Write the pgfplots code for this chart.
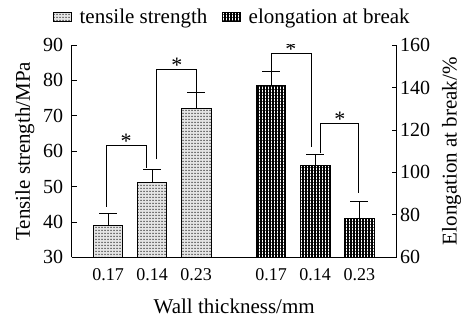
\documentclass[border=0pt]{standalone}
\usepackage{pgfplots}
\pgfplotsset{compat=1.18}
\usepackage{fontspec}
\setmainfont{Liberation Serif}
\usetikzlibrary{patterns.meta}
\pgfplotstableread{
x y e
1 39.1 3.3
2 51.2 3.7
3 72.1 4.6
}\tensile
\pgfplotstableread{
x y e
4.7 141.2 6.6
5.7 103.1 5.6
6.7 78.4 7.8
}\elong
\tikzset{
 tsstyle/.style={draw=black, line width=0.8bp, fill=black!10, postaction={pattern={Dots[distance=3bp,radius=0.75bp]}, pattern color=black!80}},
 elstyle/.style={draw=black, line width=0.8bp, pattern={Hatch[angle=0,distance=3bp,line width=1.4bp]}, pattern color=black},
 starnode/.style={inner sep=0, anchor=south, yshift=-3bp, font=\fontsize{22bp}{22bp}\selectfont},
}
\pgfplotsset{
 common/.style={
  scale only axis, width=325bp, height=212.3bp,
  xmin=0.175, xmax=7.55,
  axis line style={-, line width=0.8bp},
  tick align=inside, major tick length=5bp,
  every tick/.style={black, line width=0.8bp},
  /pgf/number format/assume math mode=true,
  label style={font=\fontsize{21bp}{24bp}\selectfont},
  yticklabel style={font=\fontsize{20bp}{22bp}\selectfont},
  xticklabel style={font=\fontsize{18bp}{20bp}\selectfont, yshift=-8bp},
  error bars/y dir=plus, error bars/y explicit,
  error bars/error bar style={black, line width=0.8bp},
  error bars/error mark options={rotate=90, mark size=9bp, line width=0.8bp, black},
 },
}
\begin{document}
\begin{tikzpicture}
\useasboundingbox (-71.7bp,-60bp) rectangle (400.3bp,257.3bp);
\begin{axis}[common,
  ymin=30, ymax=90, ytick={30,40,...,90},
  axis y line*=left, axis x line*=bottom,
  yticklabel style={xshift=-5bp},
  xtick={1,2,3,4.7,5.7,6.7},
  xticklabels={0.17,0.14,0.23,0.17,0.14,0.23},
  x tick style={draw=none},
  xlabel={Wall thickness/mm},
  xlabel style={inner sep=0.5bp, text depth=0pt, yshift=-14bp},
  ylabel={Tensile strength/MPa},
  ylabel shift=2bp,
  legend columns=2,
  legend style={draw=none, fill=none, at={(0.494,1.134)}, anchor=center,
    font=\fontsize{21bp}{24bp}\selectfont,
    /tikz/every odd column/.append style={column sep=6bp},
    /tikz/every even column/.append style={column sep=12bp}},
  legend image code/.code={\draw[#1] (0bp,-4.5bp) rectangle (18bp,4.5bp);},
]
\addplot[ybar, bar width=0.67, tsstyle] table[x=x, y=y, y error=e] {\tensile};
\addlegendentry{tensile strength}
\addlegendimage{elstyle}
\addlegendentry{elongation at break}
\draw[line width=0.8bp] (axis cs:0.955,44.3) |- (axis cs:1.864,61.5) -- (axis cs:1.864,55.2);
\node[starnode] at (axis cs:1.41,61.5) {*};
\draw[line width=0.8bp] (axis cs:2.107,57.7) |- (axis cs:3.0,83.1) -- (axis cs:3.0,76.8);
\node[starnode] at (axis cs:2.56,83.1) {*};
\end{axis}
\begin{axis}[common,
  ymin=60, ymax=160, ytick={60,80,...,160},
  axis y line*=right, axis x line=none,
  ylabel={Elongation at break/\%},
  ylabel shift=5bp,
]
\addplot[ybar, bar width=0.67, elstyle] table[x=x, y=y, y error=e] {\elong};
\draw[line width=0.8bp] (axis cs:4.70,141.2) |- (axis cs:5.61,156.1) -- (axis cs:5.61,111.8);
\node[starnode] at (axis cs:5.15,156.1) {*};
\draw[line width=0.8bp] (axis cs:5.82,109.0) |- (axis cs:6.69,123.1) -- (axis cs:6.69,90.1);
\node[starnode] at (axis cs:6.26,123.1) {*};
\end{axis}
\end{tikzpicture}
\end{document}
